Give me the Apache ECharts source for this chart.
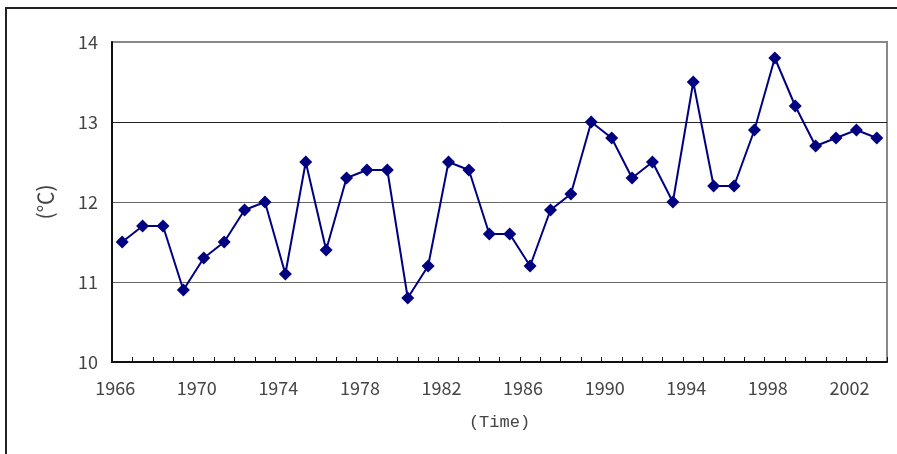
<!DOCTYPE html>
<html>
<head>
<meta charset="utf-8">
<script src="https://cdn.jsdelivr.net/npm/echarts@6/dist/echarts.min.js"></script>
<style>html,body{margin:0;padding:0;background:#fff;}#c{width:897px;height:454px;}</style>
</head>
<body>
<div id="c"></div>
<script>
var years = ['1966','1967','1968','1969','1970','1971','1972','1973','1974','1975',
  '1976','1977','1978','1979','1980','1981','1982','1983','1984','1985',
  '1986','1987','1988','1989','1990','1991','1992','1993','1994','1995',
  '1996','1997','1998','1999','2000','2001','2002','2003'];
var temps = [11.5,11.7,11.7,10.9,11.3,11.5,11.9,12.0,11.1,12.5,
  11.4,12.3,12.4,12.4,10.8,11.2,12.5,12.4,11.6,11.6,
  11.2,11.9,12.1,13.0,12.8,12.3,12.5,12.0,13.5,12.2,
  12.2,12.9,13.8,13.2,12.7,12.8,12.9,12.8];
var yMin = 10, yMax = 14, yStep = 1;
var xName = '(Time)';
var yName = '(℃)';

var chart = echarts.init(document.getElementById('c'), null, {renderer: 'canvas'});
var font = '"Noto Sans CJK KR", "Noto Sans", sans-serif';
chart.setOption({
  animation: false,
  backgroundColor: '#fff',
  graphic: [{
    type: 'rect', z: 100, silent: true,
    shape: {x: 6, y: 8, width: 1000, height: 1000},
    style: {fill: 'none', stroke: '#222', lineWidth: 2}
  }],
  grid: {
    left: 112, right: 10, top: 42, bottom: 92,
    show: true, borderColor: '#888', borderWidth: 2, backgroundColor: 'transparent'
  },
  xAxis: {
    type: 'category',
    data: years,
    boundaryGap: true,
    name: xName,
    nameLocation: 'middle',
    nameGap: 52,
    nameTextStyle: {fontFamily: '"Liberation Mono", monospace', fontSize: 17, color: '#444'},
    axisLine: {show: true, lineStyle: {color: '#111', width: 2}},
    axisTick: {show: true, inside: true, length: 5, interval: 0, lineStyle: {color: '#111', width: 1}},
    axisLabel: {interval: 3, fontFamily: font, fontSize: 18, color: '#444', margin: 17, padding: [0, 14, 0, 0]},
    splitLine: {show: false}
  },
  yAxis: {
    type: 'value',
    min: yMin, max: yMax, interval: yStep,
    name: yName,
    nameLocation: 'middle',
    nameRotate: 90,
    nameGap: 56,
    nameTextStyle: {fontFamily: font, fontSize: 21, color: '#444'},
    axisLine: {show: true, lineStyle: {color: '#111', width: 2}},
    axisTick: {show: false},
    axisLabel: {fontFamily: font, fontSize: 18, color: '#444', margin: 14},
    splitLine: {show: true, lineStyle: {color: ['#000', '#666', '#666', '#222', '#888'], width: 1}}
  },
  series: [{
    type: 'line',
    data: temps,
    symbol: 'diamond',
    symbolSize: 13,
    showSymbol: true,
    itemStyle: {color: '#000080'},
    lineStyle: {color: '#000080', width: 2}
  }]
});
</script>
</body>
</html>
